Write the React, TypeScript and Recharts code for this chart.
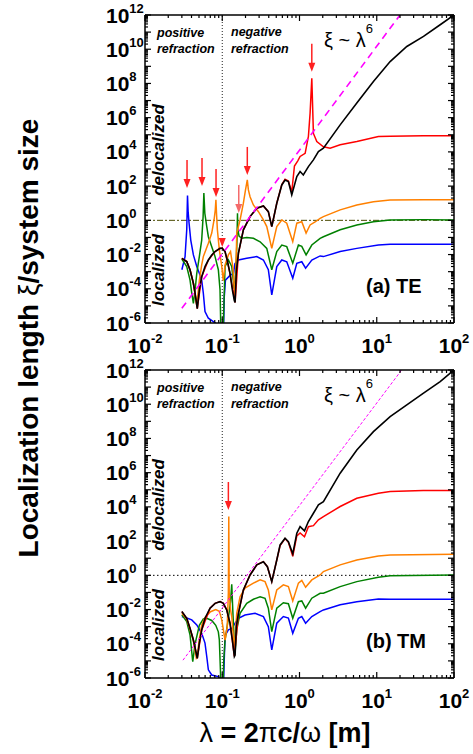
import React from 'react';
import { LineChart, Line, XAxis, YAxis, ReferenceLine, ReferenceDot } from 'recharts';

type P = [number, number];

// ---------- (a) TE : [lambda (m), xi / system size] ----------
const teBlue: P[] = [
  [0.03, 1.3e-3], [0.033, 7.6e-3], [0.0347, 0.28], [0.0355, 28], [0.0362, 3], [0.0372, 0.68],
  [0.0391, 7e-2], [0.0423, 9.5e-3], [0.0468, 2e-3], [0.0505, 8e-4], [0.0542, 3.2e-4],
  [0.0569, 5.5e-5], [0.0598, 4.6e-6], [0.0661, 1.9e-6], [0.0767, 1.2e-6], [0.09, 7e-7],
  [0.104, 5e-7], [0.106, 3e-5], [0.11, 3.2e-4], [0.126, 6e-4], [0.14, 8e-4], [0.146, 3e-3],
  [0.162, 4.8e-3], [0.2075, 6e-3], [0.28, 7.6e-3], [0.341, 4.8e-3], [0.395, 1.3e-3],
  [0.4375, 4.4e-5], [0.508, 2e-3], [0.59, 4.8e-3], [0.684, 3.8e-3], [0.818, 4.1e-4],
  [0.923, 3.1e-3], [1.07, 3.8e-3], [1.2, 1.6e-3], [1.443, 4.8e-3], [1.849, 8.3e-3],
  [2.04, 7.6e-3], [3.36, 1.5e-2], [5.52, 2.3e-2], [10.5, 3.6e-2], [14.9, 4e-2], [40, 4e-2], [100, 4e-2],
];
const teGreen: P[] = [
  [0.03, 5.5e-3], [0.0347, 2e-3], [0.0383, 3.2e-4], [0.0403, 5.5e-5], [0.0423, 1.4e-5],
  [0.0445, 8.5e-5], [0.0468, 8e-4], [0.0505, 7.6e-3], [0.0542, 7e-2], [0.0565, 1.6], [0.0578, 40],
  [0.0595, 2.6], [0.063, 0.43], [0.0661, 0.11], [0.0731, 2.9e-2], [0.0807, 7.6e-3], [0.089, 1.3e-3],
  [0.0936, 8.5e-5], [0.0965, 1e-7], [0.102, 1e-7], [0.1045, 5e-6], [0.1087, 2e-3], [0.12, 4.8e-3],
  [0.1327, 2e-3], [0.1425, 1e-4], [0.1466, 3e-4], [0.152, 5e-3], [0.1555, 0.1], [0.1575, 2.6],
  [0.159, 0.3], [0.165, 0.12], [0.179, 8.9e-2], [0.2075, 0.1], [0.253, 8.9e-2], [0.309, 5.6e-2],
  [0.377, 2.3e-2], [0.4375, 1.3e-3], [0.508, 1.5e-2], [0.59, 3.6e-2], [0.684, 2.9e-2],
  [0.818, 3.1e-3], [0.968, 3.6e-2], [1.07, 3e-2], [1.217, 9.5e-3], [1.443, 3.6e-2],
  [1.849, 8.9e-2], [2.04, 0.11], [3.36, 0.28], [5.52, 0.54], [9.06, 0.83], [14.9, 1.05], [40, 1.1], [100, 1.05],
];
const teOrange: P[] = [
  [0.03, 6e-3], [0.0347, 3.9e-3], [0.0383, 1.3e-3], [0.0423, 2e-4], [0.0446, 5e-5], [0.0468, 1.1e-5],
  [0.0505, 3e-4], [0.0542, 2.5e-3], [0.0569, 7.6e-3], [0.0661, 4.6e-2], [0.0731, 0.18],
  [0.0783, 1.05], [0.0812, 4], [0.0828, 16], [0.0845, 2], [0.0865, 0.28], [0.0917, 1.9e-2],
  [0.0986, 2e-3], [0.103, 3e-4], [0.1087, 2.5e-3], [0.12, 9.5e-3], [0.128, 1.5e-2],
  [0.1368, 2e-3], [0.1435, 1e-4], [0.1466, 2e-5], [0.152, 1e-2], [0.154, 0.18], [0.17, 1.05],
  [0.1877, 10], [0.2, 60], [0.211, 230], [0.218, 60], [0.229, 24], [0.253, 7.9], [0.294, 3.2],
  [0.341, 1.05], [0.377, 0.43], [0.4375, 2.3e-2], [0.508, 0.43], [0.59, 1.05], [0.684, 0.68],
  [0.818, 5.6e-2], [0.923, 0.68], [1.07, 0.83], [1.217, 0.18], [1.371, 0.54], [1.592, 0.8],
  [1.849, 1.3], [2.04, 1.66], [3.36, 4.1], [5.52, 7.9], [9.06, 12.3], [14.9, 15.5], [40, 16], [100, 16],
];
const teRed: P[] = [
  [0.03, 6e-3], [0.0347, 3.9e-3], [0.0383, 1.26e-3], [0.0423, 2.1e-4], [0.0475, 7e-6],
  [0.0542, 5e-4], [0.0661, 4.8e-3], [0.0807, 1.5e-2], [0.0936, 2.3e-2], [0.1, 2.3e-2],
  [0.1087, 1.5e-2], [0.126, 8e-4], [0.1466, 1.6e-5], [0.162, 1.2e-2], [0.1877, 0.28],
  [0.229, 1.66], [0.28, 5.1], [0.341, 6.9], [0.395, 3.2], [0.4375, 0.43], [0.508, 10],
  [0.59, 125], [0.65, 250], [0.718, 200], [0.794, 45], [0.86, 1500], [0.95, 3000],
  [1.018, 5400], [1.183, 8300], [1.304, 8e4], [1.371, 1.8e6], [1.443, 2e8], [1.514, 1.2e5],
  [1.675, 4e4], [2.04, 2e4], [2.49, 1.66e4], [3.36, 2.6e4], [5.52, 4e4], [10.5, 7.9e4],
  [14.9, 8.3e4], [40, 8.7e4], [100, 8.7e4],
];
const teBlack: P[] = [
  [0.03, 6e-3], [0.0347, 3.9e-3], [0.0383, 1.26e-3], [0.0423, 2.1e-4], [0.0445, 5.5e-5],
  [0.0468, 1.1e-5], [0.0475, 7e-6], [0.0505, 8.5e-5], [0.0542, 5e-4], [0.0598, 2e-3],
  [0.0661, 4.8e-3], [0.0731, 9.5e-3], [0.0807, 1.5e-2], [0.0936, 2.3e-2], [0.1, 2.3e-2],
  [0.1087, 1.5e-2], [0.116, 4.8e-3], [0.126, 8e-4], [0.1352, 8.5e-5], [0.1435, 2e-5],
  [0.1466, 1.6e-5], [0.152, 1e-3], [0.162, 1.2e-2], [0.1877, 0.28], [0.229, 1.66], [0.28, 5.1],
  [0.341, 6.9], [0.395, 3.2], [0.4375, 0.43], [0.508, 10], [0.59, 117], [0.65, 229], [0.718, 182],
  [0.794, 31], [0.923, 363], [1.018, 708], [1.12, 447], [1.304, 1380], [1.514, 3390],
  [1.757, 1.05e4], [2.04, 1.66e4], [3.36, 3.8e5], [5.52, 7.1e6], [9.06, 1.29e8], [14.9, 1.9e9],
  [24.5, 1.45e10], [40.3, 5.6e10], [66.2, 2.7e11], [100, 1e12],
];
const teLambda6: P[] = [[0.03, 7.2e-6], [20, 1e12]];
const teArrowTips: P[] = [[0.035, 78], [0.0547, 100], [0.0831, 23], [0.1636, 2.7], [0.211, 450], [1.443, 4.8e8]];
const teSmallArrowTips: P[] = [[0.1, 2.8e-2]];

// ---------- (b) TM ----------
const tmBlue: P[] = [
  [0.03, 3.9e-3], [0.0347, 3.2e-3], [0.0403, 2.5e-3], [0.0468, 1.26e-3], [0.0542, 4.1e-4],
  [0.0598, 1.1e-4], [0.063, 1.8e-5], [0.0661, 3e-6], [0.0731, 1.5e-6], [0.089, 1.2e-6],
  [0.1, 8e-7], [0.104, 5e-7], [0.106, 1e-5], [0.1087, 3e-4], [0.12, 6.5e-4], [0.133, 8e-4],
  [0.1466, 1.6e-3], [0.162, 3.1e-3], [0.197, 4.8e-3], [0.266, 6e-3], [0.341, 3.9e-3],
  [0.395, 1e-3], [0.4375, 4.4e-5], [0.508, 1.6e-3], [0.618, 3.9e-3], [0.718, 3.2e-3],
  [0.818, 4.1e-4], [0.968, 3.1e-3], [1.07, 3.9e-3], [1.2, 1.6e-3], [1.443, 3.9e-3],
  [1.849, 7.6e-3], [2.04, 9.5e-3], [3.36, 1.9e-2], [5.52, 2.9e-2], [10.5, 4.2e-2], [14.9, 4e-2], [100, 4e-2],
];
const tmGreen: P[] = [
  [0.03, 5e-3], [0.0347, 2e-3], [0.0383, 3.2e-4], [0.0415, 9e-6], [0.0445, 1e-4], [0.0505, 1.2e-3],
  [0.0569, 2.8e-3], [0.063, 3.1e-3], [0.0731, 2.3e-3], [0.0824, 1.2e-3], [0.089, 5e-4],
  [0.0917, 1.66e-4], [0.0955, 1e-6], [0.097, 1e-7], [0.102, 1e-7], [0.1045, 1e-5],
  [0.1087, 1.66e-4], [0.12, 3e-3], [0.128, 3e-2], [0.1327, 0.3], [0.1368, 1e-2], [0.1435, 1e-4],
  [0.1466, 3e-5], [0.154, 6.5e-4], [0.17, 6e-3], [0.2075, 2.3e-2], [0.253, 4e-2], [0.309, 5.6e-2],
  [0.358, 4.5e-2], [0.395, 1.2e-2], [0.4375, 5.1e-4], [0.508, 1.2e-2], [0.618, 2.5e-2],
  [0.718, 2.2e-2], [0.818, 3.1e-3], [0.968, 2.9e-2], [1.07, 3.2e-2], [1.2, 1.2e-2],
  [1.443, 4.6e-2], [1.849, 8.9e-2], [2.04, 8.9e-2], [3.36, 0.22], [5.52, 0.43], [10.5, 0.78],
  [14.9, 0.93], [100, 1.05],
];
const tmOrange: P[] = [
  [0.03, 6e-3], [0.0347, 2.8e-3], [0.0383, 7e-4], [0.0423, 1.5e-4], [0.0461, 1.5e-5],
  [0.0475, 2e-5], [0.0505, 2e-4], [0.0542, 1.2e-3], [0.0598, 3.5e-3], [0.0705, 7.5e-3],
  [0.0824, 1e-2], [0.0917, 8e-3], [0.0986, 2.5e-3], [0.1087, 1.66e-4], [0.116, 1e-3],
  [0.12, 0.1], [0.1215, 2.7e3], [0.123, 0.1], [0.128, 1e-2], [0.1327, 3.9e-3], [0.1435, 4.4e-5],
  [0.154, 6e-3], [0.17, 5.6e-2], [0.197, 0.18], [0.253, 0.35], [0.309, 0.54], [0.358, 0.43],
  [0.395, 0.14], [0.4375, 9.5e-3], [0.508, 0.14], [0.618, 0.28], [0.718, 0.22], [0.818, 3.2e-2],
  [0.968, 0.35], [1.07, 0.5], [1.2, 0.2], [1.443, 0.54], [1.849, 1.05], [2.04, 1.66], [3.36, 4.1],
  [5.52, 7.9], [10.5, 13.5], [14.9, 15.5], [100, 17],
];
const tmRed: P[] = [
  [0.03, 7.6e-3], [0.0347, 3.1e-3], [0.0383, 7.9e-4], [0.0423, 1.66e-4], [0.0475, 1.4e-5],
  [0.0542, 6.5e-4], [0.0695, 1.2e-2], [0.0807, 2.3e-2], [0.0936, 2.9e-2], [0.1033, 2.3e-2],
  [0.1143, 9.5e-3], [0.126, 1.6e-3], [0.1435, 1.8e-5], [0.162, 6e-3], [0.1877, 0.14],
  [0.229, 1.05], [0.28, 4.1], [0.341, 6.3], [0.384, 3.2], [0.4375, 0.43], [0.508, 7.9],
  [0.561, 55], [0.65, 140], [0.718, 85], [0.818, 13], [0.923, 200], [1.018, 300], [1.16, 180],
  [1.304, 700], [1.514, 800], [1.757, 1740], [2.04, 2700], [3.36, 1.05e4], [5.52, 3.2e4],
  [10.5, 6.3e4], [14.9, 7.9e4], [40, 9e4], [100, 9e4],
];
const tmBlack: P[] = [
  [0.03, 7.6e-3], [0.0347, 3.1e-3], [0.0383, 7.9e-4], [0.0423, 1.66e-4], [0.0461, 2.8e-5],
  [0.0475, 1.4e-5], [0.0505, 1.1e-4], [0.0542, 6.5e-4], [0.0598, 3.1e-3], [0.0695, 1.2e-2],
  [0.0807, 2.3e-2], [0.0936, 2.9e-2], [0.1033, 2.3e-2], [0.1143, 9.5e-3], [0.126, 1.6e-3],
  [0.1352, 1.66e-4], [0.1435, 1.8e-5], [0.1466, 2.2e-5], [0.152, 1e-3], [0.162, 6e-3],
  [0.1877, 0.14], [0.229, 1.05], [0.28, 4.1], [0.341, 6.3], [0.384, 3.2], [0.4375, 0.43],
  [0.508, 7.9], [0.561, 60], [0.65, 148], [0.718, 93], [0.818, 18], [0.923, 288], [1.018, 700],
  [1.16, 400], [1.304, 1400], [1.514, 4270], [1.757, 1.3e4], [2.04, 2e4], [3.36, 9.3e5],
  [5.52, 2.1e7], [9.06, 2.5e8], [14.9, 1.9e9], [24.5, 9.1e9], [40.3, 4.5e10], [66.2, 2.1e11], [100, 1e12],
];
const tmLambda6: P[] = [[0.031, 1.1e-5], [21, 1e12]];
const tmArrowTips: P[] = [[0.12, 6.6e3]];
const tmSmallArrowTips: P[] = [];

// ---------- axes ----------
const xDecades = [0.01, 0.1, 1, 10, 100];
const yDecades = [1e-6, 1e-5, 1e-4, 1e-3, 1e-2, 1e-1, 1, 1e1, 1e2, 1e3, 1e4, 1e5, 1e6, 1e7, 1e8, 1e9, 1e10, 1e11, 1e12];
const minorMultipliers = [2, 3, 4, 5, 6, 7, 8, 9];
const withMinors = (dec: number[]) => [
  ...dec,
  ...dec.slice(0, -1).flatMap((d) => minorMultipliers.map((m) => m * d)),
];
const xTicks = withMinors(xDecades);
const yTicks = withMinors(yDecades);

const FONT = '"Liberation Sans", Arial, Helvetica, sans-serif';
const C = { blue: '#0000FF', green: '#008000', orange: '#FF8000', red: '#FF0000', black: '#000000', magenta: '#FF00FF' };

const expOf = (v: number) => {
  const l = Math.log10(v);
  const r = Math.round(l);
  return { major: Math.abs(l - r) < 1e-6, r };
};
const MAJ = 6;
const MIN = 3;

const LeftTick = (p: any) => {
  const { x, y, payload } = p;
  const { major, r } = expOf(payload.value);
  const lab = major && ((r % 2) + 2) % 2 === 0;
  return (
    <g>
      <line x1={x} x2={x + (major ? MAJ : MIN)} y1={y} y2={y} stroke="#000" strokeWidth={1.2} />
      {lab && (
        <text x={x - 39} y={y + 7.5} fontFamily={FONT} fontWeight="bold" fontSize={21} fill="#000" textAnchor="start">
          <tspan>10</tspan>
          <tspan dy={-10} fontSize={13}>{String(r)}</tspan>
        </text>
      )}
    </g>
  );
};
const RightTick = (p: any) => {
  const { x, y, payload } = p;
  const { major } = expOf(payload.value);
  return <line x1={x} x2={x - (major ? MAJ : MIN)} y1={y} y2={y} stroke="#000" strokeWidth={1.2} />;
};
const BottomTick = (p: any) => {
  const { x, y, payload } = p;
  const { major, r } = expOf(payload.value);
  return (
    <g>
      <line x1={x} x2={x} y1={y} y2={y - (major ? MAJ : MIN)} stroke="#000" strokeWidth={1.2} />
      {major && (
        <text x={x} y={y + 30} fontFamily={FONT} fontWeight="bold" fontSize={21} fill="#000" textAnchor="middle">
          <tspan>10</tspan>
          <tspan dy={-10} fontSize={13}>{String(r)}</tspan>
        </text>
      )}
    </g>
  );
};
const TopTick = (p: any) => {
  const { x, y, payload } = p;
  const { major } = expOf(payload.value);
  return <line x1={x} x2={x} y1={y} y2={y + (major ? MAJ : MIN)} stroke="#000" strokeWidth={1.2} />;
};

const arrowShape = (len: number, color: string) => (p: any) => {
  const { cx, cy } = p;
  return (
    <g>
      <line x1={cx} x2={cx} y1={cy - len} y2={cy - 7} stroke={color} strokeWidth={1.5} />
      <polygon points={`${cx - 3.5},${cy - 9} ${cx + 3.5},${cy - 9} ${cx},${cy}`} fill={color} />
    </g>
  );
};

const pts = (a: P[]) => a.map(([x, y]) => ({ x, y }));

type PanelProps = {
  series: { data: P[]; color: string; width: number }[];
  lam6: P[];
  lam6Dash: string;
  lam6Width: number;
  hDash: string;
  hColor: string;
  arrows: P[];
  lightArrowIndex: number;
  smallArrows: P[];
};

const Panel = ({ series, lam6, lam6Dash, lam6Width, hDash, hColor, arrows, lightArrowIndex, smallArrows }: PanelProps) => (
  <LineChart width={473} height={360} margin={{ top: 10, right: 9, bottom: 7, left: 105 }}>
    <XAxis
      xAxisId={0} type="number" dataKey="x" scale="log" domain={[0.01, 100]} allowDataOverflow
      ticks={xTicks} interval={0} tick={BottomTick} tickSize={0} tickMargin={0} tickLine={false}
      axisLine={{ stroke: '#000', strokeWidth: 1.5 }} height={30}
    />
    <XAxis
      xAxisId="top" orientation="top" type="number" dataKey="x" scale="log" domain={[0.01, 100]} allowDataOverflow
      ticks={xTicks} interval={0} tick={TopTick} tickSize={0} tickMargin={0} tickLine={false}
      axisLine={{ stroke: '#000', strokeWidth: 1.5 }} height={5}
    />
    <YAxis
      yAxisId={0} type="number" scale="log" domain={[1e-6, 1e12]} allowDataOverflow
      ticks={yTicks} interval={0} tick={LeftTick} tickSize={0} tickMargin={0} tickLine={false}
      axisLine={{ stroke: '#000', strokeWidth: 1.5 }} width={40}
    />
    <YAxis
      yAxisId="right" orientation="right" type="number" scale="log" domain={[1e-6, 1e12]} allowDataOverflow
      ticks={yTicks} interval={0} tick={RightTick} tickSize={0} tickMargin={0} tickLine={false}
      axisLine={{ stroke: '#000', strokeWidth: 1.5 }} width={10}
    />
    <ReferenceLine x={0.1} stroke="#222" strokeWidth={1} strokeDasharray="1 2" />
    <ReferenceLine y={1} stroke={hColor} strokeWidth={1} strokeDasharray={hDash} />
    {series.map((s, i) => (
      <Line
        key={i} data={pts(s.data)} dataKey="y" type="linear" stroke={s.color} strokeWidth={s.width}
        dot={false} activeDot={false} isAnimationActive={false}
      />
    ))}
    <Line
      data={pts(lam6)} dataKey="y" type="linear" stroke={C.magenta} strokeWidth={lam6Width}
      strokeDasharray={lam6Dash} dot={false} activeDot={false} isAnimationActive={false}
    />
    {arrows.map(([x, y], i) => (
      <ReferenceDot key={'a' + i} x={x} y={y} ifOverflow="visible"
        shape={arrowShape(28, i === lightArrowIndex ? '#F46A6A' : '#FF2020')} />
    ))}
    {smallArrows.map(([x, y], i) => (
      <ReferenceDot key={'s' + i} x={x} y={y} ifOverflow="visible" shape={arrowShape(9, '#FF2020')} />
    ))}
  </LineChart>
);

const Annot = ({ dy, panel }: { dy: number; panel: string }) => (
  <g fontFamily={FONT} fill="#000">
    <text x={157} y={37 + dy} fontSize={12.5} fontWeight="bold" fontStyle="italic">positive</text>
    <text x={157} y={53 + dy} fontSize={12.5} fontWeight="bold" fontStyle="italic">refraction</text>
    <text x={231} y={36 + dy} fontSize={12.5} fontWeight="bold" fontStyle="italic">negative</text>
    <text x={231} y={53 + dy} fontSize={12.5} fontWeight="bold" fontStyle="italic">refraction</text>
    <text x={324} y={47 + dy} fontSize={20}>
      <tspan>ξ ~ λ</tspan>
      <tspan dy={-14} fontSize={13}>6</tspan>
    </text>
    <text transform={`translate(164, ${150 + dy}) rotate(-90)`} textAnchor="middle" fontSize={17} fontWeight="bold" fontStyle="italic">delocalized</text>
    <text transform={`translate(164, ${270 + dy}) rotate(-90)`} textAnchor="middle" fontSize={17} fontWeight="bold" fontStyle="italic">localized</text>
    <text x={366} y={293 + dy} fontSize={20} fontWeight="bold">{panel}</text>
  </g>
);

export default function App() {
  return (
    <div style={{ position: 'absolute', left: 0, top: 0, width: 473, height: 754, background: '#fff', overflow: 'hidden' }}>
      <div style={{ position: 'absolute', left: 0, top: 0 }}>
        <Panel
          series={[
            { data: teBlue, color: C.blue, width: 1.5 },
            { data: teGreen, color: C.green, width: 1.5 },
            { data: teOrange, color: C.orange, width: 1.5 },
            { data: teRed, color: C.red, width: 1.5 },
            { data: teBlack, color: C.black, width: 1.6 },
          ]}
          lam6={teLambda6} lam6Dash="7 5" lam6Width={1.6}
          hDash="6 2 2 2" hColor="#4A4A00"
          arrows={teArrowTips} lightArrowIndex={3} smallArrows={teSmallArrowTips}
        />
      </div>
      <div style={{ position: 'absolute', left: 0, top: 355 }}>
        <Panel
          series={[
            { data: tmBlue, color: C.blue, width: 1.5 },
            { data: tmGreen, color: C.green, width: 1.5 },
            { data: tmOrange, color: C.orange, width: 1.5 },
            { data: tmRed, color: C.red, width: 1.5 },
            { data: tmBlack, color: C.black, width: 1.6 },
          ]}
          lam6={tmLambda6} lam6Dash="3 2" lam6Width={1}
          hDash="1.5 2.5" hColor="#000"
          arrows={tmArrowTips} lightArrowIndex={-1} smallArrows={tmSmallArrowTips}
        />
      </div>
      <svg width={473} height={754} style={{ position: 'absolute', left: 0, top: 0, pointerEvents: 'none' }}>
        <Annot dy={0} panel="(a) TE" />
        <Annot dy={355} panel="(b) TM" />
        <text transform="translate(38, 338) rotate(-90)" textAnchor="middle" fontFamily={FONT} fontSize={28} fontWeight="bold" fill="#000">
          Localization length <tspan fontWeight="normal">ξ</tspan>/system size
        </text>
        <text x={285} y={742} textAnchor="middle" fontFamily={FONT} fontSize={27} fontWeight="bold" fill="#000">
          <tspan fontWeight="normal">λ</tspan> = 2<tspan fontWeight="normal">π</tspan>c/<tspan fontWeight="normal">ω</tspan> [m]
        </text>
      </svg>
    </div>
  );
}
